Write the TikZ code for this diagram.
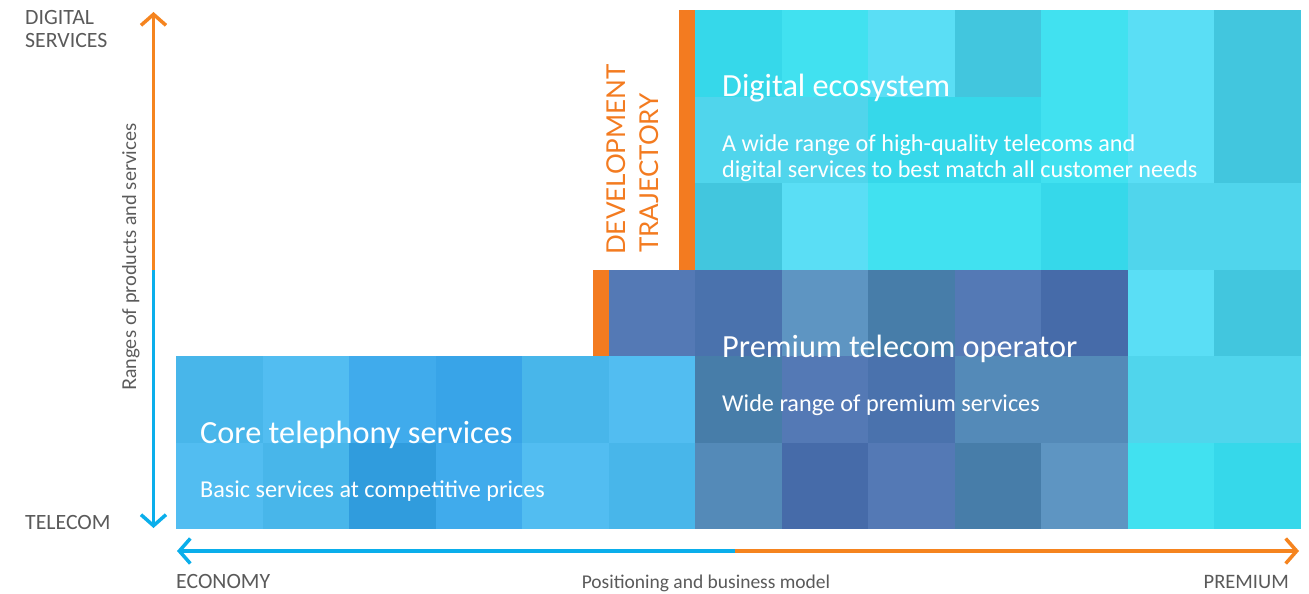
\documentclass[tikz,border=0pt]{standalone}
\usepackage{fontspec}
\setmainfont{Carlito}
\newfontfamily\latofont{Lato}
\usetikzlibrary{arrows.meta,positioning}

\definecolor{axisorange}{HTML}{F5841F}
\definecolor{axisblue}{HTML}{0AAEEB}
\definecolor{barorange}{HTML}{F37B20}
\definecolor{labelgrey}{HTML}{5A5A5A}
% core telephony tiles
\definecolor{cA}{HTML}{48B6EA}
\definecolor{cB}{HTML}{52BDF1}
\definecolor{cC}{HTML}{40ABEC}
\definecolor{cD}{HTML}{38A4E8}
\definecolor{cE}{HTML}{309CDD}
% premium operator tiles
\definecolor{pA}{HTML}{5479B5}
\definecolor{pB}{HTML}{4A72AD}
\definecolor{pC}{HTML}{5E95C2}
\definecolor{pD}{HTML}{477DA9}
\definecolor{pE}{HTML}{466BA9}
\definecolor{pF}{HTML}{548AB8}
% digital ecosystem tiles
\definecolor{dA}{HTML}{36D8EA}
\definecolor{dB}{HTML}{41E1F0}
\definecolor{dC}{HTML}{5ADEF5}
\definecolor{dD}{HTML}{42C6DE}
\definecolor{dE}{HTML}{50D5EC}

\begin{document}
\begin{tikzpicture}[x=1pt,y=-1pt,
axis/.style={line width=3.5pt,-{Straight Barb[length=11pt,width=25pt]}},
boxtitle/.style={text=white,font=\fontsize{32.3}{38}\selectfont,inner sep=0pt,anchor=base west},
boxtext/.style={text=white,font=\fontsize{24.2}{26}\selectfont,inner sep=0pt,anchor=base west,align=left},
axislabel/.style={text=labelgrey,font=\fontsize{21.8}{23}\selectfont,inner sep=0pt,anchor=base west,align=left},
trajectory/.style={text=barorange,font=\latofont\fontsize{26}{30}\selectfont,inner sep=0pt,rotate=90,anchor=base west}
]
\useasboundingbox (0,0) rectangle (1309,594);

% mosaic: row/first column/tile colours
\foreach \row/\col/\tiles in {4/0/{cA,cB,cC,cD,cA,cB},5/0/{cB,cA,cE,cC,cB,cA},
    3/5/{pA,pB,pC,pD,pA,pE},4/6/{pD,pA,pB,pF,pF},5/6/{pF,pE,pA,pD,pC},
    0/6/{dA,dB,dC,dD,dB,dC,dD},1/6/{dE,dE,dA,dA,dB,dC,dD},2/6/{dD,dC,dB,dB,dA,dE,dE},
    3/11/{dC,dD},4/11/{dE,dE},5/11/{dB,dA}}
  \foreach \t [count=\i from 0] in \tiles
    \fill[\t] ({176+86.5*(\col+\i)},{10+86.5*\row}) rectangle ++(86.7,86.7);

\fill[barorange] (679,10) rectangle (695,270);
\fill[barorange] (593,270) rectangle (608.5,356);

\coordinate (vTop) at (153.5,12);
\coordinate (vMid) at (153.5,270);
\coordinate (vBot) at (153.5,528);
\coordinate (hLeft) at (177,551);
\coordinate (hMid) at (735,551);
\coordinate (hRight) at (1299,551);

\draw[axis,axisorange] (vMid) -- (vTop);
\draw[axis,axisblue] (vMid) -- (vBot);
\draw[axis,axisblue] (hMid) -- (hLeft);
\draw[axis,axisorange] (hMid) -- (hRight);

\node[axislabel] (digLbl) at (25,48) {DIGITAL\\SERVICES};
\node[axislabel] (telLbl) at (25,529) {TELECOM};
\node[axislabel] (ecoLbl) at (176,588) {ECONOMY};
\node[axislabel,font=\fontsize{20.5}{23}\selectfont,anchor=base east] (premLbl) at (1289,588) {PREMIUM};
\node[text=labelgrey,font=\fontsize{19.5}{23}\selectfont,inner sep=0pt,anchor=base] (posLbl) at (706,588) {Positioning and business model};
\node[text=labelgrey,font=\latofont\fontsize{19}{23}\selectfont,inner sep=0pt,rotate=90,anchor=base] (rangeLbl) at (136,257) {Ranges of products and services};

\node[trajectory] (devA) at (625,255) {DEVELOPMENT};
\node[trajectory] (devB) at (658,253) {TRAJECTORY};

\node[boxtitle] (digTitle) at (722,96) {Digital ecosystem};
\node[boxtext] (digText) at (722,177) {A wide range of high-quality telecoms and\\digital services to best match all customer needs};
\node[boxtitle] (premTitle) at (722,357) {Premium telecom operator};
\node[boxtext] (premText) at (722,411) {Wide range of premium services};
\node[boxtitle] (coreTitle) at (200,443) {Core telephony services};
\node[boxtext] (coreText) at (200,497) {Basic services at competitive prices};
\end{tikzpicture}
\end{document}
